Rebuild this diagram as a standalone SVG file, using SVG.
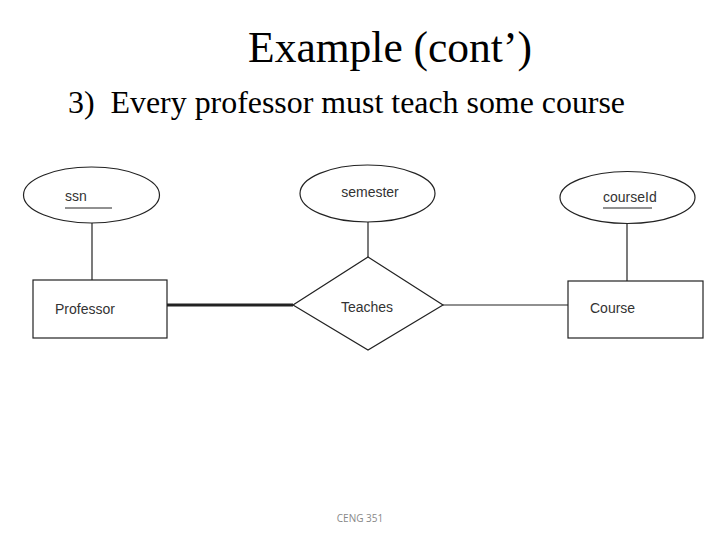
<svg xmlns="http://www.w3.org/2000/svg" width="720" height="540" viewBox="0 0 720 540">
<style>
.shape{fill:#fff;stroke:#222;stroke-width:1.2}
.lbl{font-family:"Liberation Sans",Arial,sans-serif;font-size:14px;fill:#333}
.ttl{font-family:"Liberation Serif","Times New Roman",serif;fill:#000}
</style>
<rect width="720" height="540" fill="#fff"/>
<text class="ttl" x="390" y="62" font-size="43.5" text-anchor="middle">Example (cont’)</text>
<text class="ttl" x="68" y="113" font-size="31.9" xml:space="preserve">3)  Every professor must teach some course</text>
<g id="connectors" stroke="#222" fill="none">
<line x1="92" y1="223" x2="92" y2="280" stroke-width="1.2"/>
<line x1="368" y1="222" x2="368" y2="257" stroke-width="1.2"/>
<line x1="627" y1="223" x2="627" y2="281" stroke-width="1.2"/>
<line x1="167" y1="305" x2="293" y2="305" stroke-width="3.2"/>
<line x1="443" y1="305" x2="568" y2="305" stroke-width="1.2"/>
</g>
<g id="ssn">
<ellipse class="shape" cx="91.5" cy="195" rx="68" ry="28"/>
<text class="lbl" x="65" y="201">ssn</text>
<line x1="65" y1="208" x2="112" y2="208" stroke="#222" stroke-width="1"/>
</g>
<g id="semester">
<ellipse class="shape" cx="367.5" cy="193.5" rx="67.5" ry="28.5"/>
<text class="lbl" x="370" y="197" text-anchor="middle">semester</text>
</g>
<g id="courseId">
<ellipse class="shape" cx="627.5" cy="197.5" rx="67.5" ry="26"/>
<text class="lbl" x="603" y="202">courseId</text>
<line x1="603" y1="208" x2="652" y2="208" stroke="#222" stroke-width="1"/>
</g>
<g id="Professor">
<rect class="shape" x="33" y="280" width="134" height="58"/>
<text class="lbl" x="55" y="314">Professor</text>
</g>
<g id="Teaches">
<polygon class="shape" points="368,257 443,305 368,350 293,305"/>
<text class="lbl" x="367" y="312" text-anchor="middle">Teaches</text>
</g>
<g id="Course">
<rect class="shape" x="568" y="281" width="135" height="57"/>
<text class="lbl" x="590" y="313">Course</text>
</g>
<text x="360" y="522" font-family="'Open Sans','Liberation Sans',sans-serif" font-size="10" fill="#888" text-anchor="middle">CENG 351</text>
</svg>
